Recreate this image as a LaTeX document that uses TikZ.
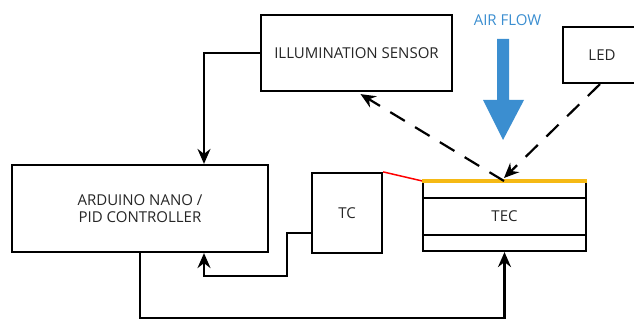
\documentclass[tikz,border=0pt]{standalone}
\usepackage{fontspec}
\setmainfont{Open Sans}
\usepackage{xcolor}
\usepackage{tikz}
\usetikzlibrary{positioning,arrows.meta,calc}

\definecolor{airblue}{RGB}{59,142,208}
\definecolor{tecorange}{RGB}{245,185,20}
\tikzset{
  block/.style={draw, line width=2.2pt, rectangle, inner sep=0pt, text=black!85},
  arr/.style={line width=2.2pt, -{Stealth[length=15pt, width=13pt, inset=5pt]}},
  ray/.style={arr, dash pattern=on 17pt off 12pt},
}

\begin{document}
\begin{tikzpicture}[x=1pt, y=-1pt, font=\fontsize{15}{17}\selectfont]
\useasboundingbox (0,0) rectangle (634,320);
% blocks
\node[block, minimum width=191, minimum height=76] (sensor) at (356.5,53) {ILLUMINATION SENSOR};
\node[block, minimum width=78, minimum height=56] (led) at (602,55) {LED};
\node[block, minimum width=256, minimum height=87, align=center] (arduino) at (140,208.5) {ARDUINO NANO /\\PID CONTROLLER};
\node[block, minimum width=70, minimum height=80] (tc) at (347,213) {TC};
\node[block, minimum width=163, minimum height=69] (tec) at (504.5,216.5) {TEC};
\draw[line width=2.2pt] ([yshift=-17]tec.north west) -- ([yshift=-17]tec.north east);
\draw[line width=2.2pt] ([yshift=17]tec.south west) -- ([yshift=17]tec.south east);
\draw[tecorange, line width=3.5pt] (tec.north west) -- (tec.north east);
\draw[red, line width=1.5pt] (tc.north east) -- (tec.north west);
% air flow
\node[text=airblue] (air) at (507.5,20) {AIR FLOW};
\fill[airblue] (497,39) -- (509,39) -- (509,100) -- (524,100) -- (503,140) -- (483,100) -- (497,100) -- cycle;
% connectors
\coordinate (refl) at (504,181);
\coordinate (bot) at (0,318);
\draw[arr] (sensor.west) -| ([xshift=64]arduino.north);
\draw[arr] ([yshift=-20]tc.west) -- ++(-24,0) -- ++(0,43) -| ([xshift=64]arduino.south);
\draw[arr] (arduino.south) -- (arduino.south |- bot) -| (tec.south);
\draw[ray] (refl) -- ([xshift=4,yshift=-2]sensor.south);
\draw[ray] ([xshift=-2]led.south) -- ([yshift=3]refl);
\end{tikzpicture}
\end{document}
